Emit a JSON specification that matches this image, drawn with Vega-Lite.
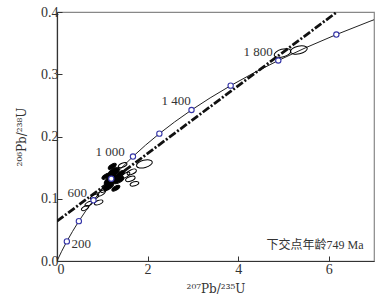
{
  "$schema": "https://vega.github.io/schema/vega-lite/v6.json",
  "width": 317,
  "height": 249,
  "autosize": {"type": "none"},
  "padding": {"left": 57, "top": 12, "right": 17, "bottom": 39},
  "background": "white",
  "config": {
    "view": {"stroke": "#888", "strokeWidth": 1.2},
    "font": "Liberation Serif",
    "axis": {
      "grid": false,
      "domainColor": "#333",
      "domainWidth": 1.2,
      "tickColor": "#333",
      "tickSize": -5,
      "labelFont": "Liberation Serif",
      "labelFontSize": 14,
      "labelColor": "#333",
      "titleFont": "DejaVu Serif",
      "titleFontSize": 12,
      "titleFontWeight": "normal",
      "titleColor": "#333"
    }
  },
  "datasets": {
    "concordia": [
      {"age": 0, "r75": 0, "r68": 0},
      {"age": 100, "r75": 0.1035, "r68": 0.01563},
      {"age": 200, "r75": 0.2177, "r68": 0.03151},
      {"age": 300, "r75": 0.34374, "r68": 0.04764},
      {"age": 400, "r75": 0.48282, "r68": 0.06402},
      {"age": 500, "r75": 0.63628, "r68": 0.08065},
      {"age": 600, "r75": 0.80566, "r68": 0.09754},
      {"age": 700, "r75": 0.99251, "r68": 0.1147},
      {"age": 800, "r75": 1.19876, "r68": 0.13213},
      {"age": 900, "r75": 1.4263, "r68": 0.14983},
      {"age": 1000, "r75": 1.67741, "r68": 0.1678},
      {"age": 1100, "r75": 1.95452, "r68": 0.18606},
      {"age": 1200, "r75": 2.2603, "r68": 0.2046},
      {"age": 1300, "r75": 2.59774, "r68": 0.22344},
      {"age": 1400, "r75": 2.97009, "r68": 0.24256},
      {"age": 1500, "r75": 3.38099, "r68": 0.26199},
      {"age": 1600, "r75": 3.83441, "r68": 0.28172},
      {"age": 1700, "r75": 4.33477, "r68": 0.30175},
      {"age": 1800, "r75": 4.8869, "r68": 0.3221},
      {"age": 1900, "r75": 5.49618, "r68": 0.34277},
      {"age": 2000, "r75": 6.16853, "r68": 0.36377},
      {"age": 2100, "r75": 6.91045, "r68": 0.38509},
      {"age": 2111, "r75": 7.0, "r68": 0.38755}
    ],
    "markers": [
      {"age": 200, "r75": 0.2177, "r68": 0.03151},
      {"age": 400, "r75": 0.48282, "r68": 0.06402},
      {"age": 600, "r75": 0.80566, "r68": 0.09754},
      {"age": 800, "r75": 1.19876, "r68": 0.13213},
      {"age": 1000, "r75": 1.67741, "r68": 0.1678},
      {"age": 1200, "r75": 2.2603, "r68": 0.2046},
      {"age": 1400, "r75": 2.97009, "r68": 0.24256},
      {"age": 1600, "r75": 3.83441, "r68": 0.28172},
      {"age": 1800, "r75": 4.8869, "r68": 0.3221},
      {"age": 2000, "r75": 6.16853, "r68": 0.36377}
    ],
    "discordia": [
      {"r75": 0, "r68": 0.0639},
      {"r75": 6.18, "r68": 0.4}
    ],
    "ellipses": [
      {"kind": "f", "r75": 1.25, "r68": 0.143, "len": 0.3, "tilt": 325},
      {"kind": "f", "r75": 1.18, "r68": 0.13, "len": 0.32, "tilt": 325},
      {"kind": "f", "r75": 1.36, "r68": 0.13, "len": 0.26, "tilt": 330},
      {"kind": "f", "r75": 1.14, "r68": 0.12, "len": 0.26, "tilt": 325},
      {"kind": "f", "r75": 1.3, "r68": 0.117, "len": 0.2, "tilt": 330},
      {"kind": "f", "r75": 1.08, "r68": 0.136, "len": 0.2, "tilt": 330},
      {"kind": "f", "r75": 1.4, "r68": 0.14, "len": 0.22, "tilt": 330},
      {"kind": "f", "r75": 1.22, "r68": 0.152, "len": 0.2, "tilt": 330},
      {"kind": "o", "r75": 1.45, "r68": 0.154, "len": 0.2, "tilt": 340},
      {"kind": "o", "r75": 1.93, "r68": 0.156, "len": 0.36, "tilt": 345},
      {"kind": "o", "r75": 1.65, "r68": 0.143, "len": 0.22, "tilt": 335},
      {"kind": "o", "r75": 1.62, "r68": 0.132, "len": 0.22, "tilt": 340},
      {"kind": "o", "r75": 1.71, "r68": 0.124, "len": 0.2, "tilt": 345},
      {"kind": "o", "r75": 1.52, "r68": 0.138, "len": 0.2, "tilt": 330},
      {"kind": "o", "r75": 0.98, "r68": 0.109, "len": 0.2, "tilt": 330},
      {"kind": "o", "r75": 0.83, "r68": 0.103, "len": 0.2, "tilt": 335},
      {"kind": "o", "r75": 0.92, "r68": 0.094, "len": 0.2, "tilt": 340},
      {"kind": "o", "r75": 0.7, "r68": 0.092, "len": 0.18, "tilt": 330},
      {"kind": "o", "r75": 0.62, "r68": 0.085, "len": 0.18, "tilt": 330},
      {"kind": "o", "r75": 1.05, "r68": 0.115, "len": 0.2, "tilt": 330},
      {"kind": "o", "r75": 4.98, "r68": 0.334, "len": 0.38, "tilt": 345},
      {"kind": "o", "r75": 5.34, "r68": 0.339, "len": 0.38, "tilt": 348}
    ],
    "labels": [
      {"r75": 0.32, "r68": 0.027, "text": "200"},
      {"r75": 0.23, "r68": 0.109, "text": "600"},
      {"r75": 0.85, "r68": 0.1756, "text": "1 000"},
      {"r75": 2.31, "r68": 0.257, "text": "1 400"},
      {"r75": 4.12, "r68": 0.336, "text": "1 800"}
    ],
    "note": [
      {"r75": 6.77, "r68": 0.026, "text": "下交点年龄749 Ma"}
    ]
  },
  "encoding": {
    "x": {
      "field": "r75", "type": "quantitative",
      "scale": {"domain": [0, 7], "nice": false, "zero": false},
      "axis": {"values": [0, 2, 4, 6], "title": "²⁰⁷Pb/²³⁵U", "labelPadding": 6, "titlePadding": 7, "format": "d"}
    },
    "y": {
      "field": "r68", "type": "quantitative",
      "scale": {"domain": [0, 0.4], "nice": false},
      "axis": {"values": [0, 0.1, 0.2, 0.3, 0.4], "format": ".1f", "title": "²⁰⁶Pb/²³⁸U", "labelPadding": 4, "titlePadding": 12}
    }
  },
  "layer": [
    {
      "data": {"name": "concordia"},
      "mark": {"type": "line", "color": "#222", "strokeWidth": 1, "clip": true},
      "encoding": {"order": {"field": "age", "type": "quantitative"}}
    },
    {
      "data": {"name": "discordia"},
      "mark": {"type": "line", "color": "#111", "strokeWidth": 2.8, "strokeDash": [8, 2, 2, 2], "clip": true},
      "encoding": {}
    },
    {
      "data": {"name": "ellipses"},
      "transform": [{"filter": "datum.kind == 'f'"}],
      "mark": {
        "type": "point", "filled": true, "fill": "#000", "stroke": "#000", "strokeWidth": 1, "opacity": 1,
        "shape": "M-1,0C-1,-0.249,-0.552,-0.45,0,-0.45C0.552,-0.45,1,-0.249,1,0C1,0.249,0.552,0.45,0,0.45C-0.552,0.45,-1,0.249,-1,0Z"
      },
      "encoding": {
        "size": {"field": "len", "type": "quantitative", "scale": {"type": "pow", "exponent": 2, "domain": [0, 1], "range": [0, 2048]}, "legend": null},
        "angle": {"field": "tilt", "type": "quantitative", "scale": null}
      }
    },
    {
      "data": {"name": "ellipses"},
      "transform": [{"filter": "datum.kind == 'o'"}],
      "mark": {
        "type": "point", "filled": false, "fill": null, "stroke": "#000", "strokeWidth": 1, "opacity": 1,
        "shape": "M-1,0C-1,-0.249,-0.552,-0.45,0,-0.45C0.552,-0.45,1,-0.249,1,0C1,0.249,0.552,0.45,0,0.45C-0.552,0.45,-1,0.249,-1,0Z"
      },
      "encoding": {
        "size": {"field": "len", "type": "quantitative", "scale": {"type": "pow", "exponent": 2, "domain": [0, 1], "range": [0, 2048]}, "legend": null},
        "angle": {"field": "tilt", "type": "quantitative", "scale": null}
      }
    },
    {
      "data": {"name": "markers"},
      "mark": {"type": "point", "shape": "circle", "filled": false, "fill": "white", "fillOpacity": 1, "stroke": "#3535a8", "strokeWidth": 1.1, "size": 28, "opacity": 1}
    },
    {
      "data": {"name": "labels"},
      "mark": {"type": "text", "align": "left", "baseline": "middle", "font": "Liberation Serif", "fontSize": 13, "color": "#333"},
      "encoding": {"text": {"field": "text"}}
    },
    {
      "data": {"name": "note"},
      "mark": {"type": "text", "align": "right", "baseline": "middle", "font": "Liberation Serif, Noto Sans CJK SC", "fontSize": 12, "color": "#333"},
      "encoding": {"text": {"field": "text"}}
    }
  ]
}
